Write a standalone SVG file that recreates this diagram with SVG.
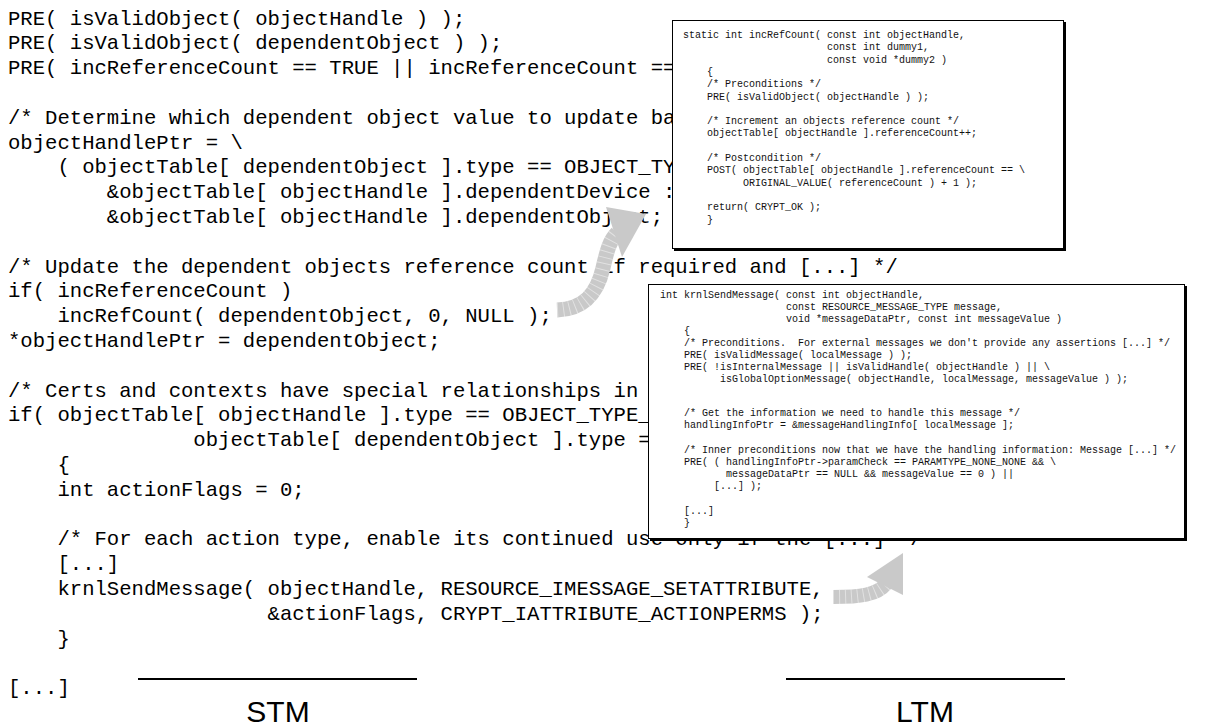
<svg xmlns="http://www.w3.org/2000/svg" width="1207" height="726" viewBox="0 0 1207 726" xml:space="preserve">
  <style>
    text { white-space: pre; }
    .code { font-family: "Liberation Mono", "Courier New", monospace; font-size: 20.6px; fill: #000; }
    .small { font-family: "Liberation Mono", "Courier New", monospace; font-size: 10px; fill: #111; }
    .label { font-family: "Liberation Sans", Arial, sans-serif; font-size: 30px; fill: #000; text-anchor: middle; }
    .panel { fill: #fff; stroke: #000; stroke-width: 1; }
    .shadow { fill: #000; }
    .arrow-body { fill: none; stroke: #c9c9c9; stroke-width: 15; stroke-linecap: butt; }
    .arrow-stripe { fill: none; stroke: #fff; stroke-width: 15; stroke-dasharray: 1 5; opacity: 0.45; }
    .arrow-head { fill: #c9c9c9; }
    .rule { stroke: #000; stroke-width: 2; }
  </style>

  <rect width="1207" height="726" fill="#fff"/>

  <!-- caller-side listing (short-term view) -->
  <g id="code-main" class="code">
    <text x="8" y="24.5">PRE( isValidObject( objectHandle ) );</text>
    <text x="8" y="49.3">PRE( isValidObject( dependentObject ) );</text>
    <text x="8" y="74.1">PRE( incReferenceCount == TRUE || incReferenceCount ==</text>
    <text x="8" y="123.7">/* Determine which dependent object value to update ba</text>
    <text x="8" y="148.5">objectHandlePtr = \</text>
    <text x="8" y="173.3">    ( objectTable[ dependentObject ].type == OBJECT_TY</text>
    <text x="8" y="198.1">        &amp;objectTable[ objectHandle ].dependentDevice :</text>
    <text x="8" y="222.9">        &amp;objectTable[ objectHandle ].dependentObject;</text>
    <text x="8" y="272.5">/* Update the dependent objects reference count if required and [...] */</text>
    <text x="8" y="297.3">if( incReferenceCount )</text>
    <text x="8" y="322.1">    incRefCount( dependentObject, 0, NULL );</text>
    <text x="8" y="346.9">*objectHandlePtr = dependentObject;</text>
    <text x="8" y="396.5">/* Certs and contexts have special relationships in</text>
    <text x="8" y="421.3">if( objectTable[ objectHandle ].type == OBJECT_TYPE_</text>
    <text x="8" y="446.1">               objectTable[ dependentObject ].type =</text>
    <text x="8" y="470.9">    {</text>
    <text x="8" y="495.7">    int actionFlags = 0;</text>
    <text x="8" y="545.3">    /* For each action type, enable its continued use only if the [...] */</text>
    <text x="8" y="570.1">    [...]</text>
    <text x="8" y="594.9">    krnlSendMessage( objectHandle, RESOURCE_IMESSAGE_SETATTRIBUTE,</text>
    <text x="8" y="619.7">                     &amp;actionFlags, CRYPT_IATTRIBUTE_ACTIONPERMS );</text>
    <text x="8" y="644.5">    }</text>
    <text x="8" y="694.1">[...]</text>
  </g>

  <!-- incRefCount() panel -->
  <g id="box-increfcount">
    <rect class="shadow" x="674" y="22" width="392" height="229"/>
    <rect class="panel" x="672.5" y="20.5" width="391" height="228"/>
    <g class="small">
      <text x="683" y="38">static int incRefCount( const int objectHandle,</text>
      <text x="683" y="50.3">                        const int dummy1,</text>
      <text x="683" y="62.6">                        const void *dummy2 )</text>
      <text x="683" y="74.9">    {</text>
      <text x="683" y="87.2">    /* Preconditions */</text>
      <text x="683" y="99.5">    PRE( isValidObject( objectHandle ) );</text>
      <text x="683" y="124.1">    /* Increment an objects reference count */</text>
      <text x="683" y="136.4">    objectTable[ objectHandle ].referenceCount++;</text>
      <text x="683" y="161">    /* Postcondition */</text>
      <text x="683" y="173.3">    POST( objectTable[ objectHandle ].referenceCount == \</text>
      <text x="683" y="185.6">          ORIGINAL_VALUE( referenceCount ) + 1 );</text>
      <text x="683" y="210.2">    return( CRYPT_OK );</text>
      <text x="683" y="222.5">    }</text>
    </g>
  </g>

  <!-- krnlSendMessage() panel -->
  <g id="box-krnlsendmessage">
    <rect class="shadow" x="650" y="286" width="537" height="255"/>
    <rect class="panel" x="648.5" y="284.5" width="536" height="254"/>
    <g class="small">
      <text x="660" y="298">int krnlSendMessage( const int objectHandle,</text>
      <text x="660" y="310">                     const RESOURCE_MESSAGE_TYPE message,</text>
      <text x="660" y="322">                     void *messageDataPtr, const int messageValue )</text>
      <text x="660" y="334">    {</text>
      <text x="660" y="346">    /* Preconditions.  For external messages we don't provide any assertions [...] */</text>
      <text x="660" y="358">    PRE( isValidMessage( localMessage ) );</text>
      <text x="660" y="370">    PRE( !isInternalMessage || isValidHandle( objectHandle ) || \</text>
      <text x="660" y="382">          isGlobalOptionMessage( objectHandle, localMessage, messageValue ) );</text>
      <text x="660" y="416">    /* Get the information we need to handle this message */</text>
      <text x="660" y="428">    handlingInfoPtr = &amp;messageHandlingInfo[ localMessage ];</text>
      <text x="660" y="452.5">    /* Inner preconditions now that we have the handling information: Message [...] */</text>
      <text x="660" y="464.7">    PRE( ( handlingInfoPtr-&gt;paramCheck == PARAMTYPE_NONE_NONE &amp;&amp; \</text>
      <text x="660" y="476.9">           messageDataPtr == NULL &amp;&amp; messageValue == 0 ) ||</text>
      <text x="660" y="489.1">         [...] );</text>
      <text x="660" y="513.5">    [...]</text>
      <text x="660" y="525.7">    }</text>
    </g>
  </g>

  <!-- curved arrows from the listing to each panel -->
  <g id="connectors">
    <g id="arrow-to-increfcount">
      <path class="arrow-body" d="M557,310 C584,309 597,294 603,268 C607,250 610,240 617,233"/>
      <path class="arrow-stripe" d="M557,310 C584,309 597,294 603,268 C607,250 610,240 617,233"/>
      <polygon class="arrow-head" points="606,207 646,214 622,257"/>
    </g>
    <g id="arrow-to-krnlsendmessage">
      <path class="arrow-body" d="M833,597 C860,597 877,595 886,584" style="stroke-width:14"/>
      <path class="arrow-stripe" d="M833,597 C860,597 877,595 886,584" style="stroke-width:14"/>
      <polygon class="arrow-head" points="867,577 903,553 903,595"/>
    </g>
  </g>

  <!-- memory labels -->
  <g id="label-stm">
    <line class="rule" x1="138" y1="679" x2="417" y2="679"/>
    <text class="label" x="278" y="722">STM</text>
  </g>
  <g id="label-ltm">
    <line class="rule" x1="786" y1="679" x2="1065" y2="679"/>
    <text class="label" x="925" y="722">LTM</text>
  </g>
</svg>
